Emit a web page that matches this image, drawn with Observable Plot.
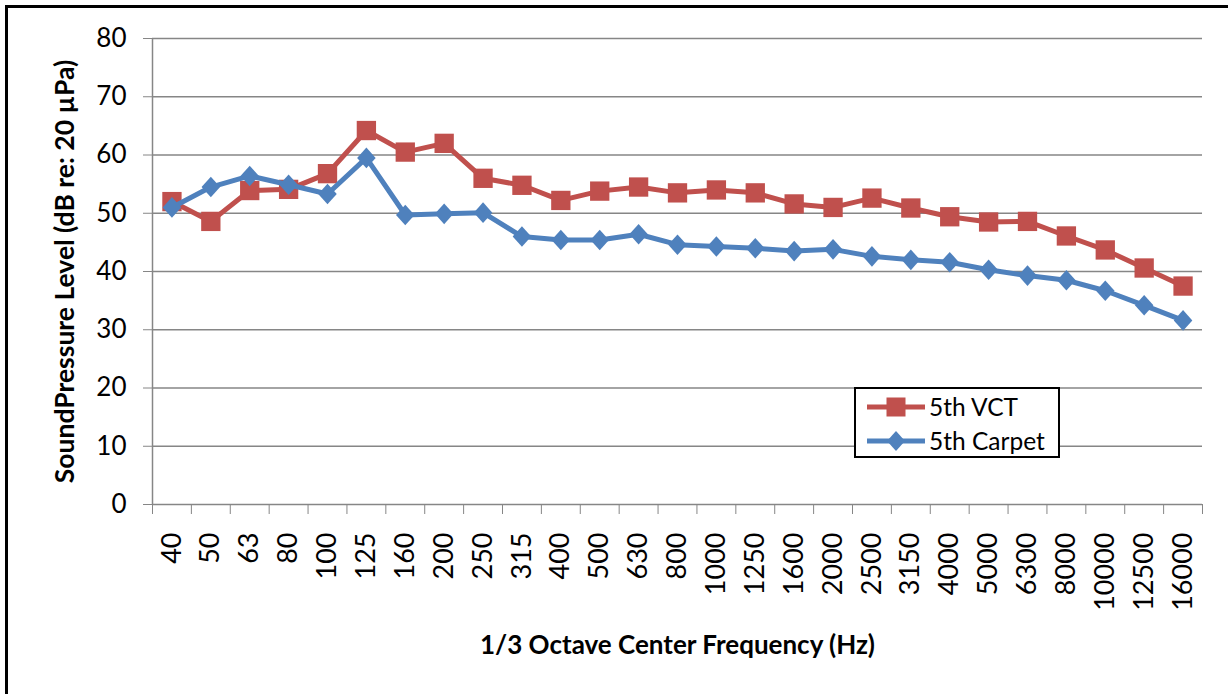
<!DOCTYPE html>
<html>
<head>
<meta charset="utf-8">
<script src="https://cdn.jsdelivr.net/npm/d3@7"></script>
<script src="https://cdn.jsdelivr.net/npm/@observablehq/plot@0.6"></script>
<style>
  html, body { margin: 0; padding: 0; background: #fff; }
  #wrap { position: relative; width: 1228px; height: 694px; overflow: hidden; font-family: Lato, "Open Sans", sans-serif; }
  #frame { position: absolute; left: 5px; top: 5px; width: 1240px; height: 720px; border-top: 3px solid #000; border-left: 3px solid #000; pointer-events: none; }
  #legend { position: absolute; left: 854px; top: 387px; width: 202px; height: 67px; border: 2px solid #000; background: #fff; }
  .row { position: absolute; left: 0; height: 30px; width: 200px; }
  .row svg { position: absolute; left: 9px; top: 0; }
  .row span { position: absolute; left: 73px; top: 0; line-height: 30px; font-size: 24.5px; color: #000; white-space: nowrap; }
</style>
</head>
<body>
<div id="wrap">
  <div id="chart"></div>
  <div id="legend"></div>
  <div id="frame"></div>
</div>
<script>
const freqs = ["40","50","63","80","100","125","160","200","250","315","400","500","630","800","1000","1250","1600","2000","2500","3150","4000","5000","6300","8000","10000","12500","16000"];
const vct = [52.0, 48.6, 53.9, 54.1, 56.8, 64.2, 60.5, 62.0, 56.0, 54.8, 52.2, 53.8, 54.5, 53.5, 54.0, 53.5, 51.6, 51.0, 52.6, 50.9, 49.4, 48.5, 48.6, 46.1, 43.7, 40.6, 37.5];
const carpet = [51.0, 54.5, 56.4, 54.9, 53.3, 59.5, 49.7, 49.9, 50.1, 46.0, 45.4, 45.4, 46.4, 44.6, 44.3, 44.0, 43.5, 43.8, 42.6, 42.0, 41.6, 40.3, 39.3, 38.5, 36.7, 34.2, 31.6];
const yTicks = [0, 10, 20, 30, 40, 50, 60, 70, 80];
const seriesNames = ["5th VCT", "5th Carpet"];
const seriesColors = ["#C0504D", "#4F81BD"];
const yTitle = "SoundPressure Level (dB re: 20 µPa)";
const xTitle = "1/3 Octave Center Frequency (Hz)";

const rows = freqs.map((f, i) => ({i, f, vct: vct[i], carpet: carpet[i]}));
const idx = d3.range(freqs.length);
const bounds = d3.range(freqs.length + 1).map(i => i - 0.5);

const diamond = {
  draw(ctx, size) {
    const h = Math.sqrt(size / 1.8), w = 0.9 * h;
    ctx.moveTo(0, -h); ctx.lineTo(w, 0); ctx.lineTo(0, h); ctx.lineTo(-w, 0); ctx.closePath();
  }
};
const grid = "#868686";

const chart = Plot.plot({
  width: 1228,
  height: 694,
  marginLeft: 152,
  marginRight: 26,
  marginTop: 38,
  marginBottom: 190,
  x: {domain: [-0.5, freqs.length - 0.5]},
  y: {domain: [0, 80]},
  style: {fontFamily: "Lato, 'Open Sans', sans-serif", fontSize: "26px", color: "#000", background: "transparent"},
  marks: [
    Plot.ruleY(yTicks, {stroke: grid, strokeWidth: 1.5}),
    Plot.ruleX([-0.5], {stroke: grid, strokeWidth: 1.5}),
    Plot.axisY({ticks: yTicks, tickSize: 9, tickPadding: 17, stroke: grid, fill: "#000", fontSize: 26, label: null}),
    Plot.axisX({ticks: bounds, tickSize: 10, tickFormat: () => "", stroke: grid, label: null}),
    Plot.axisX({ticks: idx, tickFormat: i => freqs[i], tickSize: 0, tickPadding: 28, tickRotate: -90, fill: "#000", fontSize: 27, label: null}),
    Plot.line(rows, {x: "i", y: "vct", stroke: seriesColors[0], strokeWidth: 5}),
    Plot.dot(rows, {x: "i", y: "vct", symbol: "square", r: 10.9, fill: seriesColors[0]}),
    Plot.line(rows, {x: "i", y: "carpet", stroke: seriesColors[1], strokeWidth: 5}),
    Plot.dot(rows, {x: "i", y: "carpet", symbol: diamond, r: 7.8, fill: seriesColors[1]}),
    Plot.text([yTitle], {frameAnchor: "left", textAnchor: "middle", dx: -87, rotate: -90, fontWeight: "bold", fontSize: 26.5, fill: "#000"}),
    Plot.text([xTitle], {frameAnchor: "bottom", textAnchor: "middle", dy: 149, fontWeight: "bold", fontSize: 26, fill: "#000"})
  ]
});
document.getElementById("chart").appendChild(chart);

const legend = d3.select("#legend");
seriesNames.forEach((name, k) => {
  const row = legend.append("div").attr("class", "row").style("top", (k === 0 ? 3 : 37) + "px");
  const svg = row.append("svg").attr("width", 60).attr("height", 30);
  svg.append("line").attr("x1", 2).attr("x2", 60).attr("y1", 15).attr("y2", 15)
    .attr("stroke", seriesColors[k]).attr("stroke-width", 5);
  if (k === 0) {
    svg.append("rect").attr("x", 31 - 9.5).attr("y", 15 - 9.5).attr("width", 19).attr("height", 19).attr("fill", seriesColors[k]);
  } else {
    svg.append("path").attr("d", "M31,5L40,15L31,25L22,15Z").attr("fill", seriesColors[k]);
  }
  row.append("span").text(name);
});
</script>
</body>
</html>
